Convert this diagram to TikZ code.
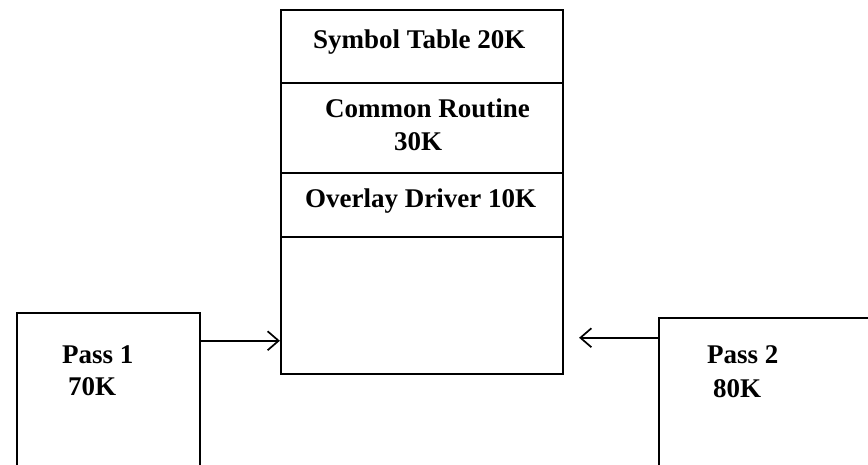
\documentclass[tikz,border=0pt]{standalone}
\usepackage{fontspec}
\setmainfont{Liberation Serif}
\usetikzlibrary{arrows.meta,positioning}

\tikzset{
  block/.style={draw, line width=2.2pt, rectangle, inner sep=0pt},
  lbl/.style={font=\bfseries\fontsize{27}{30}\selectfont, anchor=base west, inner sep=0pt},
  flow/.style={line width=1.7pt, -{Straight Barb[length=11pt,width=19pt,line width=1.7pt]}},
}

\begin{document}
\begin{tikzpicture}[x=1pt,y=-1pt]
\useasboundingbox (0,0) rectangle (868,464);
\clip (0,0) rectangle (868,464);

% memory layout
\node[block, minimum width=282pt, minimum height=73pt]  (sym)    at (422,46.5) {};
\node[block, minimum width=282pt, minimum height=90pt]  (common) at (422,128)  {};
\node[block, minimum width=282pt, minimum height=64pt]  (driver) at (422,205)  {};
\node[block, minimum width=282pt, minimum height=137pt] (free)   at (422,305.5) {};

% passes
\node[block, line width=2.5pt, minimum width=183pt, minimum height=177pt] (pass1) at (108.5,401.5) {};
\node[block, line width=2.5pt, minimum width=241pt, minimum height=172pt] (pass2) at (779.5,404) {};

\node[lbl] (symtxt)    at (313,48)  {Symbol Table 20K};
\node[lbl] (commontxt) at (325,117) {Common Routine};
\node[lbl] (commonsz)  at (394,150) {30K};
\node[lbl] (drivertxt) at (305,207) {Overlay Driver 10K};
\node[lbl] (passatxt)  at (62,363)  {Pass 1};
\node[lbl] (passasz)   at (68,395)  {70K};
\node[lbl] (passbtxt)  at (707,363) {Pass 2};
\node[lbl] (passbsz)   at (713,397) {80K};

\draw[flow] ([yshift=-29pt]pass1.north east) coordinate (p1out) -- (p1out -| free.west);
\coordinate (gap) at ([xshift=15pt]free.east);
\draw[flow] ([yshift=-21pt]pass2.north west) coordinate (p2out) -- (p2out -| gap);
\end{tikzpicture}
\end{document}
